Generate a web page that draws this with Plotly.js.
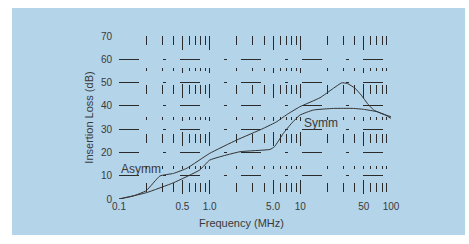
<!DOCTYPE html>
<html><head><meta charset="utf-8">
<script src="https://cdn.plot.ly/plotly-3.0.1.min.js"></script>
<style>
html,body{margin:0;padding:0;background:#ffffff;width:469px;height:244px;overflow:hidden;}
#chart{position:absolute;left:12px;top:8px;width:453px;height:227px;}
</style></head>
<body><div id="chart"></div>
<script>
// Asymmetric insertion loss
const asymmFreq = [0.1, 0.144, 0.2, 0.283, 0.4, 0.56, 1.0, 1.98, 3.9, 5.5, 7.0, 9.86, 16.5, 23.1, 28.6, 33, 40, 47, 55, 64, 75, 88, 100];
const asymmLoss = [0, 1.3, 3.6, 9.9, 11.0, 13.2, 19.6, 25.3, 30.3, 33.2, 36.1, 39.6, 43.5, 47.5, 49.9, 49.6, 47.6, 44.6, 41.0, 38.3, 37.0, 35.9, 34.6];
// Symmetric insertion loss
const symmFreq = [0.1, 0.2, 0.4, 0.78, 1.0, 2.16, 4.64, 5.2, 6.5, 8.0, 9.86, 13.9, 23.1, 38.6, 49.8, 70, 89, 100];
const symmLoss = [0, 2.7, 7.0, 12.5, 16.7, 20.3, 21.3, 22.5, 28.2, 32.5, 36.0, 38.2, 38.9, 38.9, 38.5, 37.5, 36.0, 35.3];
// Axis ticks
const xTickVals = [0.1, 0.5, 1, 5, 10, 50, 100];
const xTickText = ["0.1", "0.5", "1.0", "5.0", "10", "50", "100"];
const yTickVals = [0, 10, 20, 30, 40, 50, 60, 70];
const yTickText = ["0", "10", "20", "30", "40", "50", "60", "70"];

const lineStyle = {color: '#333333', width: 1, shape: 'spline', smoothing: 0.4};
const gridCol = '#2a2a2a';
const txt = '#3a3a3a';

const traces = [
  {x: asymmFreq, y: asymmLoss, mode: 'lines', line: lineStyle, name: 'Asymm', hoverinfo: 'skip'},
  {x: symmFreq, y: symmLoss, mode: 'lines', line: lineStyle, name: 'Symm', hoverinfo: 'skip'}
];

const layout = {
  width: 453, height: 227,
  margin: {l: 107, r: 74, t: 28, b: 36},
  paper_bgcolor: '#b4d4ea', plot_bgcolor: '#b4d4ea',
  showlegend: false,
  font: {family: 'Liberation Sans, Arial, sans-serif', size: 10, color: txt},
  xaxis: {
    type: 'log', range: [-1, 2],
    tickmode: 'array', tickvals: xTickVals, ticktext: xTickText,
    showline: false, zeroline: false, ticks: '',
    showgrid: true, gridcolor: gridCol, gridwidth: 1, griddash: '14px,20px,3px,11px',
    minor: {dtick: 'D1', showgrid: true, gridcolor: gridCol, gridwidth: 1, griddash: '9px,23px,3px,14px', ticks: ''},
    tickfont: {size: 10, color: txt}
  },
  yaxis: {
    range: [0, 70],
    tickmode: 'array', tickvals: yTickVals, ticktext: yTickText,
    showline: false, zeroline: false, ticks: '', ticklabelstandoff: 6,
    showgrid: true, gridcolor: gridCol, gridwidth: 1, griddash: '20px,24px,3px,14px',
    tickfont: {size: 10, color: txt},
    title: {text: 'Insertion Loss (dB)', font: {size: 11, color: txt}, standoff: 5}
  },
  annotations: [
    {x: 0.449, y: -0.146, xref: 'paper', yref: 'paper', text: 'Frequency (MHz)', showarrow: false, yanchor: 'middle', font: {size: 11, color: txt}},
    {x: Math.log10(0.1), y: 13, xref: 'x', yref: 'y', text: 'Asymm', showarrow: false, xanchor: 'left', font: {size: 12, color: txt}},
    {x: Math.log10(10.5), y: 32.5, xref: 'x', yref: 'y', text: 'Symm', showarrow: false, xanchor: 'left', font: {size: 12, color: txt}}
  ]
};

Plotly.newPlot('chart', traces, layout, {staticPlot: true, displayModeBar: false});
</script></body></html>
